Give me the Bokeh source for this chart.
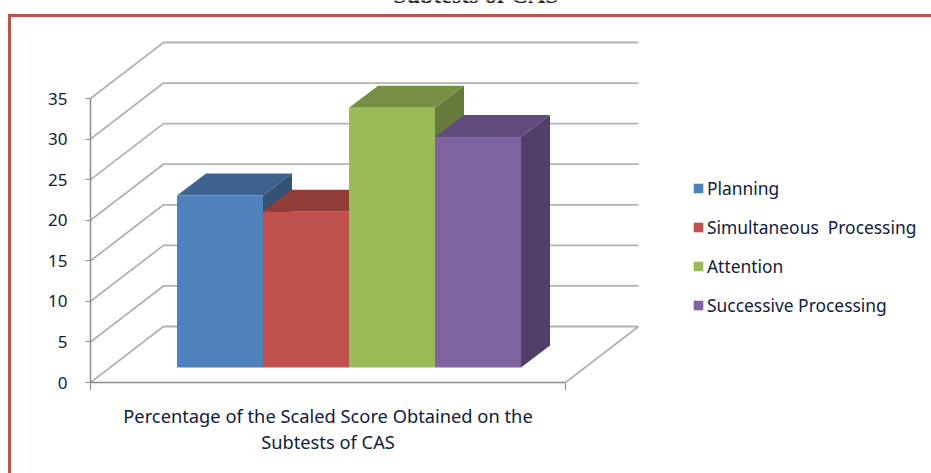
from bokeh.plotting import figure
from bokeh.models import Range1d, Label, Legend, LegendItem, FixedTicker
from bokeh.embed import file_html
from bokeh.resources import INLINE

series = ["Planning", "Simultaneous  Processing", "Attention", "Successive Processing"]
values = [21.2, 19.2, 32.0, 28.4]
front = ["#4f81bd", "#c0504d", "#9bbb59", "#8064a2"]
top = ["#3e6390", "#933d3a", "#778f44", "#624c7c"]
side = ["#345374", "#7c3230", "#677b3b", "#523f68"]
yticks = [0, 5, 10, 15, 20, 25, 30, 35]
xlabel = "Percentage of the Scaled Score Obtained on the\nSubtests of CAS"
heading = "Subtests of CAS"

# data units: x = bar index (1 = bar width), y = value
WALL_DX, WALL_DY = 73 / 86, 56 / 8.114
BAR_DX, BAR_DY = 29 / 86, 22 / 8.114
BASE = 15 / 8.114
LEFT, RIGHT = -86.5 / 86, 388.5 / 86
MID = (LEFT + RIGHT) / 2
FONT = "Noto Sans"
TXT = "#10203c"
GRID = "#b2b2b2"
BORDER = "#c0504d"

p = figure(width=931, height=473, output_backend="svg", toolbar_location=None,
           x_range=Range1d(LEFT, 841 / 86 + LEFT), y_range=Range1d(0, 382 / 8.114),
           min_border_left=90, min_border_right=0, min_border_top=0, min_border_bottom=91,
           outline_line_color=None, background_fill_alpha=0, border_fill_alpha=0)
p.styles = {
    "background-color": "white",
    "background-image": f"linear-gradient({BORDER},{BORDER}), linear-gradient({BORDER},{BORDER})",
    "background-size": "3px 459px, 923px 3px",
    "background-position": "8px 14px, 8px 14px",
    "background-repeat": "no-repeat",
}
p.grid.visible = False

# walls
xs, ys = [], []
for t in yticks:
    if t > 0:
        xs.append([LEFT, LEFT + WALL_DX, RIGHT + WALL_DX])
        ys.append([t, t + WALL_DY, t + WALL_DY])
xs.append([LEFT, LEFT + WALL_DX, RIGHT + WALL_DX, RIGHT])
ys.append([0, WALL_DY, WALL_DY, 0])
p.multi_line(xs, ys, line_color=GRID, line_width=1.8)

# bars
items = []
for i, (name, v) in enumerate(zip(series, values)):
    h = BASE + v
    p.patch([i + 1, i + 1 + BAR_DX, i + 1 + BAR_DX, i + 1],
            [BASE, BASE + BAR_DY, h + BAR_DY, h], fill_color=side[i], line_color=None)
    p.patch([i, i + BAR_DX, i + 1 + BAR_DX, i + 1],
            [h, h + BAR_DY, h + BAR_DY, h], fill_color=top[i], line_color=None)
    r = p.vbar(x=[i + 0.5], width=1, bottom=[BASE], top=[h], fill_color=front[i], line_color=None)
    items.append(LegendItem(label=name, renderers=[r]))

legend = Legend(items=items, location=(602, 65), orientation="vertical",
                background_fill_alpha=0, border_line_color=None,
                glyph_width=12, glyph_height=12, label_standoff=3, spacing=15,
                padding=0, margin=0, label_text_font=FONT, label_text_font_size="17.4px",
                label_text_color=TXT, label_height=22)
p.add_layout(legend)

# axes
ax = p.yaxis[0]
ax.ticker = FixedTicker(ticks=yticks)
ax.bounds = (0, 35)
ax.axis_line_color = "#8c8c8c"
ax.axis_line_width = 1.5
ax.major_tick_line_color = "#8c8c8c"
ax.major_tick_out = 5
ax.major_tick_in = 0
ax.minor_tick_line_color = None
ax.major_label_standoff = 18
ax.major_label_text_font = FONT
ax.major_label_text_font_size = "17px"
ax.major_label_text_color = TXT

# the single category, labelled at its centre; its end ticks are drawn as minor ticks
bx = p.xaxis[0]
bx.ticker = FixedTicker(ticks=[MID], minor_ticks=[LEFT, RIGHT])
bx.bounds = (LEFT, RIGHT)
bx.major_label_overrides = {MID: xlabel}
bx.axis_line_color = "#8c8c8c"
bx.axis_line_width = 1.5
bx.major_tick_line_color = None
bx.major_tick_out = 0
bx.major_tick_in = 0
bx.minor_tick_line_color = "#8c8c8c"
bx.minor_tick_out = 8
bx.minor_tick_in = 0
bx.major_label_standoff = 12
bx.major_label_text_font = FONT
bx.major_label_text_font_size = "18.3px"
bx.major_label_text_color = TXT
bx.major_label_text_line_height = 1.07

# cut-off heading at the page's top edge, as in the reference
p.add_layout(Label(x=(476 - 177) / 86, y=(382 + 6) / 8.114, text=heading, text_align="center",
                   text_baseline="alphabetic", text_font="Liberation Serif", text_font_style="bold",
                   text_font_size="24px", text_color="#222222"))

open("out.html", "w").write(file_html(p, INLINE))
